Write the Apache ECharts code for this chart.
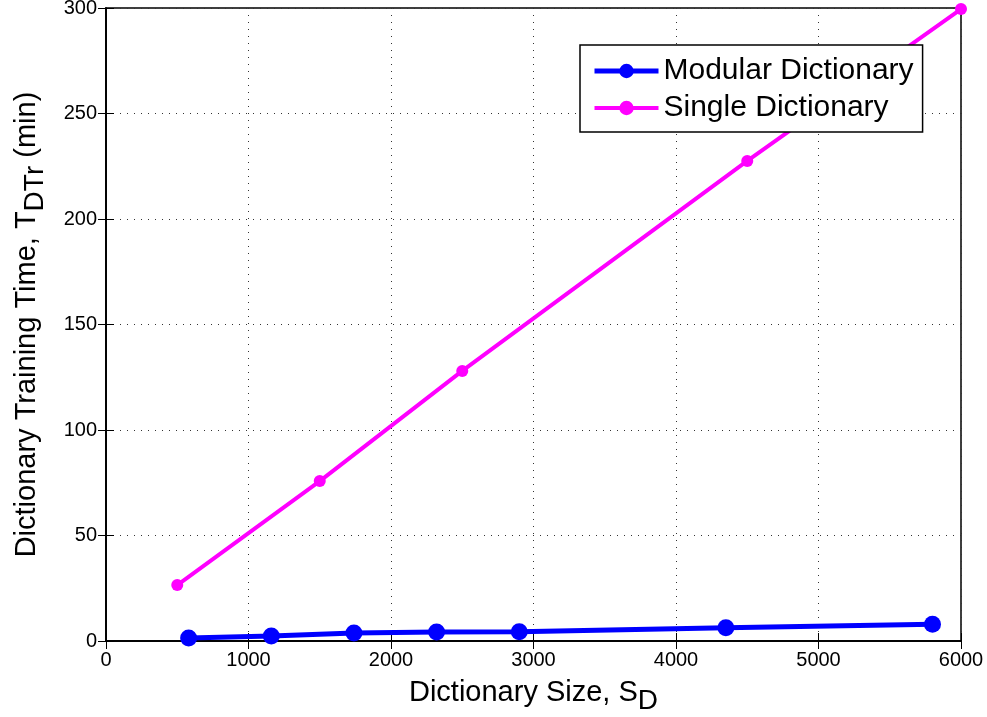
<!DOCTYPE html>
<html>
<head>
<meta charset="utf-8">
<script src="https://cdn.jsdelivr.net/npm/echarts@6/dist/echarts.min.js"></script>
<style>
  html, body { margin: 0; padding: 0; background: #fff; }
  #chart { width: 987px; height: 717px; }
</style>
</head>
<body>
<div id="chart"></div>
<script>
// Training time versus dictionary size
const modularSizes = [580, 1160, 1740, 2320, 2900, 4350, 5800];
const modularTimes = [1.4, 2.4, 3.8, 4.3, 4.4, 6.3, 7.9];
const singleSizes = [500, 1500, 2500, 4500, 6000];
const singleTimes = [26.5, 75.8, 128, 227.5, 299.5];
const xTicks = [0, 1000, 2000, 3000, 4000, 5000, 6000];
const yTicks = [0, 50, 100, 150, 200, 250, 300];

const font = 'Liberation Sans, Arial, sans-serif';
const chart = echarts.init(document.getElementById('chart'));

const pairs = (xs, ys) => xs.map((x, i) => [x, ys[i]]);

const gridLine = { show: true, lineStyle: { color: '#333', type: [1, 6], width: 1 } };

chart.setOption({
  animation: false,
  backgroundColor: '#fff',
  grid: { left: 106, right: 26, top: 8, bottom: 76, outerBoundsMode: 'none', containLabel: false,
    show: true, borderColor: '#000', borderWidth: 1.5, backgroundColor: 'transparent' },
  legend: {
    left: 580, top: 45,
    orient: 'vertical',
    backgroundColor: '#fff',
    borderColor: '#000', borderWidth: 1.5, borderRadius: 0,
    padding: [11, 9, 9, 12],
    itemWidth: 64, itemHeight: 18, itemGap: 7,
    textStyle: { fontFamily: font, fontSize: 30, color: '#000' },
    data: [
      { name: 'Modular Dictionary', lineStyle: { width: 5 } },
      { name: 'Single Dictionary', lineStyle: { width: 4 } }
    ]
  },
  xAxis: [{
    type: 'value', min: 0, max: 6000, interval: 1000,
    name: 'Dictionary Size, S{sub|D}', nameLocation: 'middle', nameGap: 30,
    nameTextStyle: { fontFamily: font, fontSize: 29, color: '#000',
      rich: { sub: { fontFamily: font, fontSize: 28, color: '#000', padding: [16, 0, 0, 0] } } },
    axisLine: { show: true, lineStyle: { color: '#000', width: 1.5 } },
    axisTick: { show: true, inside: true, length: 8, lineStyle: { color: '#000' } },
    axisLabel: { fontFamily: font, fontSize: 20, color: '#000', margin: 9,
      formatter: v => xTicks.includes(v) ? String(v) : '' },
    splitLine: gridLine
  }, {
    type: 'value', min: 0, max: 6000, interval: 1000, position: 'top',
    axisLine: { show: true, lineStyle: { color: '#000', width: 1.5 } },
    axisTick: { show: true, inside: true, length: 8, lineStyle: { color: '#000' } },
    axisLabel: { show: false }, splitLine: { show: false }
  }],
  yAxis: [{
    type: 'value', min: 0, max: 300, interval: 50,
    name: 'Dictionary Training Time, T{sub|DTr} (min)', nameLocation: 'middle', nameGap: 57, nameRotate: 90,
    nameTextStyle: { fontFamily: font, fontSize: 29, color: '#000',
      rich: { sub: { fontFamily: font, fontSize: 28, color: '#000', padding: [16, 0, 0, 0] } } },
    axisLine: { show: true, lineStyle: { color: '#000', width: 1.5 } },
    axisTick: { show: true, inside: true, length: 8, lineStyle: { color: '#000' } },
    axisLabel: { fontFamily: font, fontSize: 20, color: '#000', margin: 9,
      formatter: v => yTicks.includes(v) ? String(v) : '' },
    splitLine: gridLine
  }, {
    type: 'value', min: 0, max: 300, interval: 50, position: 'right',
    axisLine: { show: true, lineStyle: { color: '#000', width: 1.5 } },
    axisTick: { show: true, inside: true, length: 8, lineStyle: { color: '#000' } },
    axisLabel: { show: false }, splitLine: { show: false }
  }],
  series: [{
    name: 'Modular Dictionary', type: 'line',
    data: pairs(modularSizes, modularTimes),
    symbol: 'circle', symbolSize: 17,
    lineStyle: { color: '#0000ff', width: 5 },
    itemStyle: { color: '#0000ff' },
    z: 3
  }, {
    name: 'Single Dictionary', type: 'line',
    data: pairs(singleSizes, singleTimes),
    symbol: 'circle', symbolSize: 12,
    lineStyle: { color: '#ff00ff', width: 4 },
    itemStyle: { color: '#ff00ff' },
    clip: false,
    z: 2
  }]
});
</script>
</body>
</html>
